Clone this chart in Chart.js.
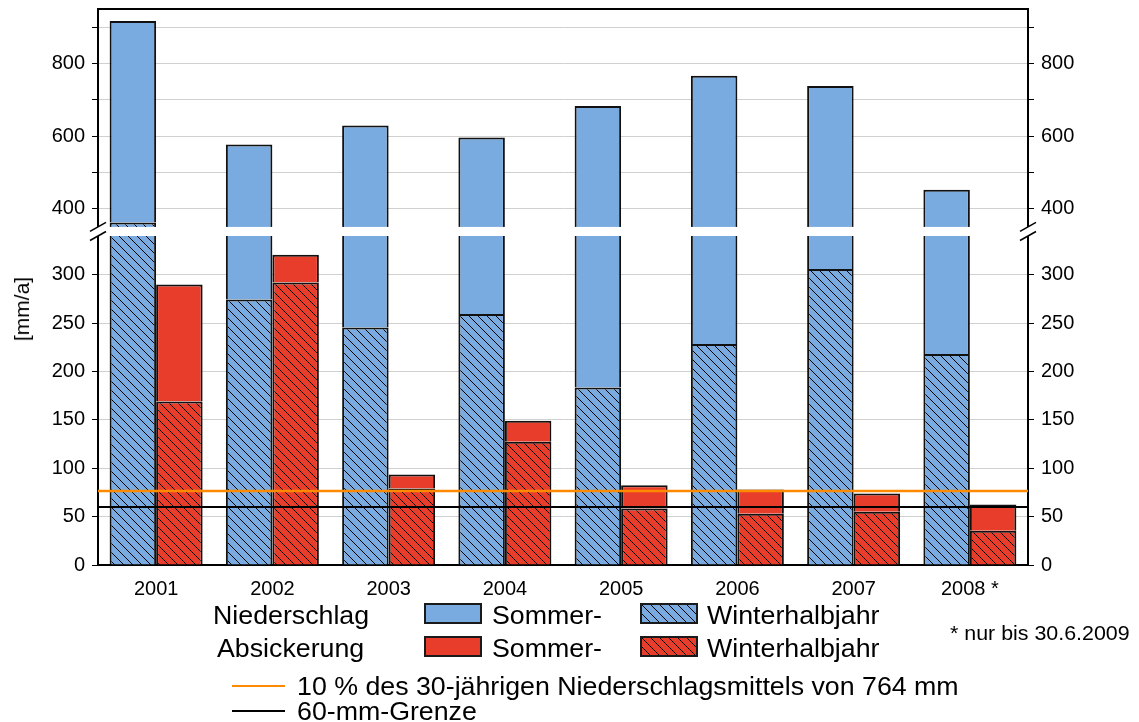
<!DOCTYPE html>
<html>
<head>
<meta charset="utf-8">
<script src="https://cdn.jsdelivr.net/npm/chart.js@4.4.1/dist/chart.umd.min.js"></script>
<style>
body { margin: 0; background: #fff; font-family: "Liberation Sans", Arial, sans-serif; }
#wrap { position: relative; width: 1139px; height: 722px; overflow: hidden; }
#chart { position: absolute; left: 0; top: 0; }
.t { position: absolute; white-space: nowrap; color: #000; line-height: 1; font-size: 25px; transform-origin: 0 50%; transform: scaleX(1.07); }
.box { position: absolute; width: 54px; height: 17px; border: 2px solid #1a1a1a; }
.ln { position: absolute; left: 232px; width: 53px; height: 2px; }
#ytitle { position: absolute; left: 22px; top: 309px; font-size: 21px; white-space: nowrap; transform: translate(-50%, -50%) rotate(-90deg); }
</style>
</head>
<body>
<div id="wrap">
  <canvas id="chart" width="1139" height="722"></canvas>
  <div id="ytitle">[mm/a]</div>
  <div class="t" style="left:213px;top:603px">Niederschlag</div>
  <div class="t" style="left:217px;top:636px">Absickerung</div>
  <div class="box" id="bN" style="left:424px;top:603px"></div>
  <div class="t" style="left:492px;top:603px">Sommer-</div>
  <div class="box" id="bNh" style="left:640px;top:603px"></div>
  <div class="t" style="left:707px;top:603px">Winterhalbjahr</div>
  <div class="box" id="bA" style="left:424px;top:636px"></div>
  <div class="t" style="left:492px;top:636px">Sommer-</div>
  <div class="box" id="bAh" style="left:640px;top:636px"></div>
  <div class="t" style="left:707px;top:636px">Winterhalbjahr</div>
  <div class="t" style="left:950px;top:623px;font-size:20px">* nur bis 30.6.2009</div>
  <div class="ln" style="top:685px;background:#ff8a00"></div>
  <div class="t" style="left:297px;top:674px">10 % des 30-jährigen Niederschlagsmittels von 764 mm</div>
  <div class="ln" style="top:710px;background:#000"></div>
  <div class="t" style="left:297px;top:699px">60-mm-Grenze</div>
</div>
<script>
const years = ['2001', '2002', '2003', '2004', '2005', '2006', '2007', '2008 *']
// Niederschlag (precipitation), mm/a
const niedWinter = [362, 274.5, 245.5, 259.5, 183.5, 228.5, 306, 218]
const niedSommer = [555, 302.5, 384, 336.5, 499.5, 537.5, 432, 234]
// Absickerung (seepage), mm/a
const sickWinter = [169, 292, 79, 127.5, 58.5, 53, 55, 35.5]
const sickSommer = [121, 28.5, 14.5, 21.5, 24, 25, 19, 27]
// reference lines (10 % of 764 mm, 60 mm limit)
const refLevels = [76.4, 60]
const refColors = ['#ff8a00', '#000000']
// axis ticks
const lowTicks = [0, 25, 50, 75, 100, 125, 150, 175, 200, 225, 250, 275, 300, 325]
const upTicks = [400, 500, 600, 700, 800, 900]
const breakLow = 340
const breakHigh = 350

const blue = '#79abe0'
const red = '#e83d2b'

Chart.defaults.font.family = '"Liberation Sans", Arial, sans-serif'
Chart.defaults.color = '#000'

function hatchTile(color) {
    const n = 9
    const c = document.createElement('canvas')
    c.width = c.height = n
    const g = c.getContext('2d')
    g.fillStyle = color
    g.fillRect(0, 0, n, n)
    g.strokeStyle = '#000'
    g.lineWidth = 1
    g.beginPath()
    g.moveTo(-1, -1); g.lineTo(n + 1, n + 1)
    g.moveTo(-1, n - 1); g.lineTo(1, n + 1)
    g.moveTo(n - 1, -1); g.lineTo(n + 1, 1)
    g.stroke()
    return c
}

const ctx = document.getElementById('chart').getContext('2d')
const tileBlue = hatchTile(blue)
const tileRed = hatchTile(red)
const hatchBlue = ctx.createPattern(tileBlue, 'repeat')
const hatchRed = ctx.createPattern(tileRed, 'repeat')

document.getElementById('bN').style.background = blue
document.getElementById('bA').style.background = red
document.getElementById('bNh').style.backgroundImage = `url(${tileBlue.toDataURL()})`
document.getElementById('bAh').style.backgroundImage = `url(${tileRed.toDataURL()})`

// each dataset only paints inside its own y panel
const clipPanels = {
    id: 'clipPanels',
    beforeDatasetDraw(chart, args) {
        const y = chart.scales[args.meta.yAxisID]
        const a = chart.chartArea
        chart.ctx.save()
        chart.ctx.beginPath()
        chart.ctx.rect(a.left - 2, y.top, a.right - a.left + 4, y.bottom - y.top + 1)
        chart.ctx.clip()
    },
    afterDatasetDraw(chart) {
        chart.ctx.restore()
    }
}

// horizontal reference lines across the whole plot, placed by the lower y scale
const refLines = {
    id: 'refLines',
    afterDatasetsDraw(chart) {
        const { ctx, chartArea: a, scales } = chart
        ctx.save()
        refLevels.forEach((v, i) => {
            const y = scales.yLow.getPixelForValue(v)
            ctx.strokeStyle = refColors[i]
            ctx.lineWidth = i === 0 ? 2.5 : 2
            ctx.beginPath()
            ctx.moveTo(a.left, y)
            ctx.lineTo(a.right, y)
            ctx.stroke()
        })
        ctx.restore()
    }
}

const axisBreak = {
    id: 'axisBreak',
    afterDraw(chart) {
        const { ctx, chartArea: a, scales } = chart
        const y1 = scales.yUp.getPixelForValue(breakHigh)
        const y2 = scales.yLow.getPixelForValue(breakLow)
        ctx.save()
        ctx.fillStyle = '#fff'
        ctx.fillRect(a.left - 3, y1, a.right - a.left + 6, y2 - y1)
        ctx.strokeStyle = '#000'
        ctx.lineWidth = 1.5
        for (const x of [a.left, a.right]) {
            for (const y of [y1, y2]) {
                ctx.beginPath()
                ctx.moveTo(x - 8, y + 4.5)
                ctx.lineTo(x + 8, y - 4.5)
                ctx.stroke()
            }
        }
        ctx.lineWidth = 2
        ctx.beginPath()
        ctx.moveTo(a.left, a.top)
        ctx.lineTo(a.right, a.top)
        ctx.stroke()
        ctx.restore()
    }
}

const barBase = {
    borderColor: '#111',
    borderWidth: 2,
    borderSkipped: 'start',
    categoryPercentage: 0.8,
    barPercentage: 1.0,
}

const yAxis = (min, max, ticks, labelStep, pos, stack, weight, order) => ({
    type: 'linear',
    position: pos,
    stack: stack,
    stackWeight: weight,
    weight: order,
    stacked: true,
    min: min,
    max: max,
    afterBuildTicks: s => { s.ticks = ticks.map(v => ({ value: v })) },
    afterFit: s => {
        s.width = pos === 'left' ? 98 : 111
        s.paddingTop = 0
        s.paddingBottom = 0
    },
    grid: {
        color: '#d0d0d0',
        tickColor: '#000',
        tickLength: 6,
        drawOnChartArea: pos === 'left',
    },
    border: { color: '#000', width: 2 },
    ticks: {
        font: { size: 20 },
        color: '#000',
        padding: 7,
        callback: v => (v % labelStep === 0 ? v : ''),
    },
})

new Chart(ctx, {
    type: 'bar',
    data: {
        labels: years,
        datasets: [
            { ...barBase, label: 'Niederschlag Winterhalbjahr', data: niedWinter, backgroundColor: hatchBlue, stack: 'N', yAxisID: 'yLow' },
            { ...barBase, label: 'Niederschlag Sommerhalbjahr', data: niedSommer, backgroundColor: blue, stack: 'N', yAxisID: 'yLow' },
            { ...barBase, label: 'Niederschlag Winterhalbjahr (oben)', data: niedWinter, backgroundColor: hatchBlue, stack: 'N', yAxisID: 'yUp' },
            { ...barBase, label: 'Niederschlag Sommerhalbjahr (oben)', data: niedSommer, backgroundColor: blue, stack: 'N', yAxisID: 'yUp' },
            { ...barBase, label: 'Absickerung Winterhalbjahr', data: sickWinter, backgroundColor: hatchRed, stack: 'A', yAxisID: 'yLow' },
            { ...barBase, label: 'Absickerung Sommerhalbjahr', data: sickSommer, backgroundColor: red, stack: 'A', yAxisID: 'yLow' },
        ]
    },
    options: {
        responsive: false,
        animation: false,
        layout: { padding: { top: 9, left: 0, right: 0, bottom: 0 } },
        plugins: {
            legend: { display: false },
            tooltip: { enabled: false },
        },
        scales: {
            x: {
                type: 'category',
                stacked: true,
                grid: { display: false },
                border: { color: '#000', width: 2 },
                ticks: { font: { size: 20 }, color: '#000', padding: 4, maxRotation: 0 },
                afterFit: s => { s.height = 157 },
            },
            yUp: yAxis(325, 950, upTicks, 200, 'left', 'vl', 227, 1),
            yLow: yAxis(0, 340, lowTicks, 50, 'left', 'vl', 329, 0),
            yUpR: yAxis(325, 950, upTicks, 200, 'right', 'vr', 227, 0),
            yLowR: yAxis(0, 340, lowTicks, 50, 'right', 'vr', 329, 1),
        }
    },
    plugins: [clipPanels, refLines, axisBreak]
})
</script>
</body>
</html>
